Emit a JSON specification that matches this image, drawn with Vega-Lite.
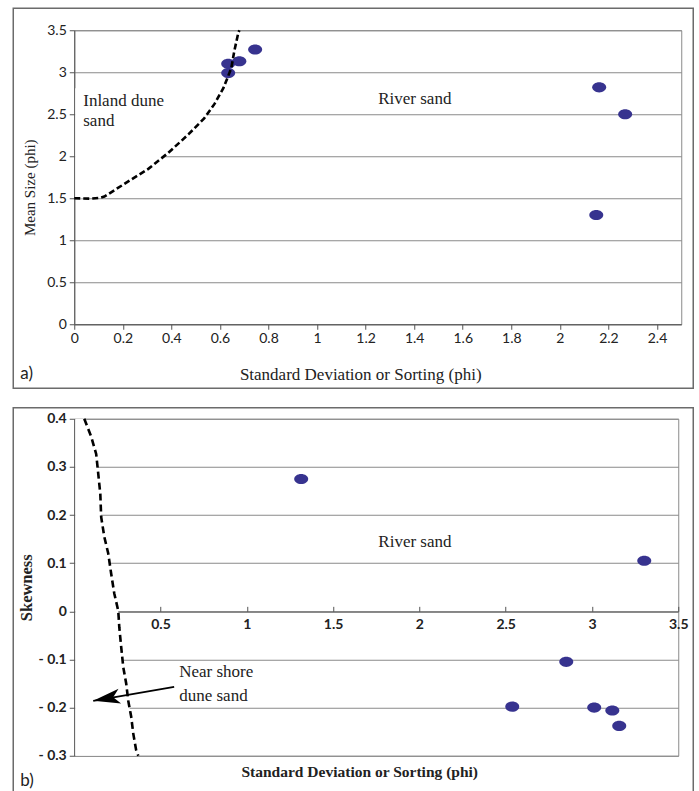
{
  "$schema": "https://vega.github.io/schema/vega-lite/v6.json",
  "background": "white",
  "padding": {"left": 11.25, "top": 6.25, "right": 0, "bottom": 0},
  "spacing": 15.5,
  "datasets": {
    "ptsA": [
      {"x": 0.634, "y": 3.10},
      {"x": 0.634, "y": 2.99},
      {"x": 0.68, "y": 3.13},
      {"x": 0.745, "y": 3.27},
      {"x": 2.162, "y": 2.82},
      {"x": 2.269, "y": 2.5},
      {"x": 2.15, "y": 1.30}
    ],
    "curveA": [
      {"x": 0.0, "y": 1.5},
      {"x": 0.062, "y": 1.495},
      {"x": 0.105, "y": 1.505},
      {"x": 0.124, "y": 1.52},
      {"x": 0.206, "y": 1.67},
      {"x": 0.305, "y": 1.85},
      {"x": 0.387, "y": 2.04},
      {"x": 0.47, "y": 2.26},
      {"x": 0.535, "y": 2.45},
      {"x": 0.577, "y": 2.62},
      {"x": 0.614, "y": 2.81},
      {"x": 0.647, "y": 3.05},
      {"x": 0.659, "y": 3.25},
      {"x": 0.675, "y": 3.46},
      {"x": 0.68, "y": 3.5}
    ],
    "txtA": [
      {"x": 0.037, "y": 2.655, "t": "Inland dune"},
      {"x": 0.037, "y": 2.417, "t": "sand"},
      {"x": 1.252, "y": 2.68, "t": "River sand"}
    ],
    "ptsB": [
      {"x": 1.315, "y": 0.275},
      {"x": 3.303, "y": 0.105},
      {"x": 2.851, "y": -0.105},
      {"x": 2.538, "y": -0.198},
      {"x": 3.013, "y": -0.2},
      {"x": 3.118, "y": -0.206},
      {"x": 3.158, "y": -0.238}
    ],
    "curveB": [
      {"x": 0.058, "y": 0.4},
      {"x": 0.098, "y": 0.363},
      {"x": 0.127, "y": 0.327},
      {"x": 0.139, "y": 0.286},
      {"x": 0.151, "y": 0.244},
      {"x": 0.156, "y": 0.196},
      {"x": 0.174, "y": 0.155},
      {"x": 0.197, "y": 0.12},
      {"x": 0.214, "y": 0.078},
      {"x": 0.232, "y": 0.037},
      {"x": 0.255, "y": 0.001},
      {"x": 0.261, "y": -0.033},
      {"x": 0.272, "y": -0.074},
      {"x": 0.284, "y": -0.116},
      {"x": 0.301, "y": -0.15},
      {"x": 0.313, "y": -0.186},
      {"x": 0.33, "y": -0.219},
      {"x": 0.342, "y": -0.254},
      {"x": 0.359, "y": -0.289},
      {"x": 0.371, "y": -0.3}
    ],
    "txtB": [
      {"x": 1.762, "y": 0.145, "t": "River sand"},
      {"x": 0.608, "y": -0.125, "t": "Near shore"},
      {"x": 0.608, "y": -0.175, "t": "dune sand"}
    ],
    "arrowB": [
      {"x": 0.579, "y": -0.157, "x2": 0.11, "y2": -0.186}
    ]
  },
  "config": {
    "view": {"stroke": "#8a8a8a", "strokeWidth": 1},
    "axis": {
      "labelFont": "Lato",
      "labelFontSize": 14,
      "labelColor": "#222",
      "titleFont": "Liberation Serif",
      "titleFontWeight": "normal",
      "titleColor": "#222",
      "domainColor": "#555",
      "tickColor": "#555",
      "gridColor": "#8a8a8a",
      "labelFlush": false,
      "labelOverlap": false
    }
  },
  "vconcat": [
    {
      "width": 607,
      "height": 294,
      "layer": [
        {
          "data": {"values": [{}]},
          "mark": {"type": "rect", "fill": "transparent", "stroke": "#6b6b6b", "strokeWidth": 1.5},
          "encoding": {
            "x": {"datum": -0.2512, "type": "quantitative", "scale": {"domain": [0, 2.5], "nice": false, "zero": false}},
            "x2": {"datum": 2.5494},
            "y": {"datum": -0.762, "type": "quantitative", "scale": {"domain": [0, 3.5], "nice": false, "zero": false}},
            "y2": {"datum": 3.762}
          }
        },
        {
          "data": {"name": "curveA"},
          "transform": [{"filter": "datum.y <= 2.85"}],
          "mark": {"type": "area", "orient": "horizontal", "color": "white", "opacity": 1},
          "encoding": {
            "x": {"field": "x", "type": "quantitative", "scale": {"domain": [0, 2.5], "nice": false, "zero": false}},
            "x2": {"datum": 0.004},
            "y": {"field": "y", "type": "quantitative", "scale": {"domain": [0, 3.5], "nice": false, "zero": false}}
          }
        },
        {
          "data": {"name": "ptsA"},
          "mark": {"type": "point", "filled": true, "opacity": 1, "color": "#37338f", "size": 196,
                   "shape": "M-1,0A1,0.72,0,1,1,1,0A1,0.72,0,1,1,-1,0Z"},
          "encoding": {
            "x": {
              "field": "x", "type": "quantitative",
              "scale": {"domain": [0, 2.5], "nice": false, "zero": false},
              "axis": {
                "values": [0, 0.2, 0.4, 0.6, 0.8, 1, 1.2, 1.4, 1.6, 1.8, 2, 2.2, 2.4],
                "format": "~g",
                "grid": false, "tickSize": 5, "labelPadding": 2,
                "title": "Standard Deviation or Sorting (phi)",
                "titleFontSize": 17, "titleX": 286, "titleY": 50, "titleBaseline": "middle"
              }
            },
            "y": {
              "field": "y", "type": "quantitative",
              "scale": {"domain": [0, 3.5], "nice": false, "zero": false},
              "axis": {
                "values": [0, 0.5, 1, 1.5, 2, 2.5, 3, 3.5],
                "format": "~g",
                "grid": true, "tickSize": 5, "labelPadding": 3,
                "title": "Mean Size (phi)", "titleFontSize": 15, "titlePadding": 9, "titleY": 157
              }
            }
          }
        },
        {
          "data": {"name": "curveA"},
          "mark": {"type": "line", "color": "black", "strokeWidth": 2.6, "strokeDash": [6, 3]},
          "encoding": {
            "x": {"field": "x", "type": "quantitative", "scale": {"domain": [0, 2.5], "nice": false, "zero": false}},
            "y": {"field": "y", "type": "quantitative", "scale": {"domain": [0, 3.5], "nice": false, "zero": false}}
          }
        },
        {
          "data": {"name": "txtA"},
          "mark": {"type": "text", "align": "left", "baseline": "middle", "font": "Liberation Serif", "fontSize": 17, "color": "#222"},
          "encoding": {
            "x": {"field": "x", "type": "quantitative", "scale": {"domain": [0, 2.5], "nice": false, "zero": false}},
            "y": {"field": "y", "type": "quantitative", "scale": {"domain": [0, 3.5], "nice": false, "zero": false}},
            "text": {"field": "t"}
          }
        },
        {
          "data": {"values": [{}]},
          "mark": {"type": "text", "align": "left", "baseline": "middle", "font": "Lato", "fontSize": 17, "color": "#222", "text": "a)"},
          "encoding": {
            "x": {"datum": -0.222, "type": "quantitative", "scale": {"domain": [0, 2.5], "nice": false, "zero": false}},
            "y": {"datum": -0.595, "type": "quantitative", "scale": {"domain": [0, 3.5], "nice": false, "zero": false}}
          }
        }
      ]
    },
    {
      "width": 604,
      "height": 337,
      "layer": [
        {
          "data": {"values": [{}]},
          "mark": {"type": "rect", "fill": "transparent", "stroke": "#6b6b6b", "strokeWidth": 1.5},
          "encoding": {
            "x": {"datum": -0.3535, "type": "quantitative", "scale": {"domain": [0, 3.5], "nice": false, "zero": false}},
            "x2": {"datum": 3.587},
            "y": {"datum": -0.404, "type": "quantitative", "scale": {"domain": [-0.3, 0.4], "nice": false, "zero": false}},
            "y2": {"datum": 0.4228}
          }
        },
        {
          "data": {"name": "curveB"},
          "mark": {"type": "area", "orient": "horizontal", "color": "white", "opacity": 1},
          "encoding": {
            "x": {"field": "x", "type": "quantitative", "scale": {"domain": [0, 3.5], "nice": false, "zero": false}},
            "x2": {"datum": 0.006},
            "y": {"field": "y", "type": "quantitative", "scale": {"domain": [-0.3, 0.4], "nice": false, "zero": false}}
          }
        },
        {
          "data": {"name": "ptsB"},
          "mark": {"type": "point", "filled": true, "opacity": 1, "color": "#37338f", "size": 196,
                   "shape": "M-1,0A1,0.72,0,1,1,1,0A1,0.72,0,1,1,-1,0Z"},
          "encoding": {
            "x": {
              "field": "x", "type": "quantitative",
              "scale": {"domain": [0, 3.5], "nice": false, "zero": false},
              "axis": {
                "orient": "bottom", "offset": -144.4,
                "values": [0.5, 1, 1.5, 2, 2.5, 3, 3.5],
                "format": "~g",
                "grid": false, "tickSize": -5, "labelPadding": 11, "labelFontWeight": "bold",
                "title": "Standard Deviation or Sorting (phi)",
                "titleFontWeight": "bold", "titleFontSize": 15.5,
                "titleX": 285, "titleY": 160, "titleBaseline": "middle"
              }
            },
            "y": {
              "field": "y", "type": "quantitative",
              "scale": {"domain": [-0.3, 0.4], "nice": false, "zero": false},
              "axis": {
                "values": [-0.3, -0.2, -0.1, 0, 0.1, 0.2, 0.3, 0.4],
                "labelExpr": "datum.value < -0.001 ? '- ' + format(-datum.value, '.1f') : (abs(datum.value) < 0.001 ? '0' : format(datum.value, '.1f'))",
                "grid": true, "tickSize": 5, "labelPadding": 3, "labelFontWeight": "bold",
                "title": "Skewness", "titleFontWeight": "bold", "titleFontSize": 16.5, "titlePadding": 4
              }
            }
          }
        },
        {
          "data": {"name": "curveB"},
          "mark": {"type": "line", "color": "black", "strokeWidth": 2.6, "strokeDash": [7, 4]},
          "encoding": {
            "x": {"field": "x", "type": "quantitative", "scale": {"domain": [0, 3.5], "nice": false, "zero": false}},
            "y": {"field": "y", "type": "quantitative", "scale": {"domain": [-0.3, 0.4], "nice": false, "zero": false}},
            "order": {"field": "y", "sort": "descending"}
          }
        },
        {
          "data": {"name": "arrowB"},
          "mark": {"type": "rule", "color": "black", "strokeWidth": 1.8},
          "encoding": {
            "x": {"field": "x", "type": "quantitative", "scale": {"domain": [0, 3.5], "nice": false, "zero": false}},
            "y": {"field": "y", "type": "quantitative", "scale": {"domain": [-0.3, 0.4], "nice": false, "zero": false}},
            "x2": {"field": "x2"},
            "y2": {"field": "y2"}
          }
        },
        {
          "data": {"name": "arrowB"},
          "mark": {"type": "point", "filled": true, "opacity": 1, "color": "black", "size": 729, "angle": 350,
                   "shape": "M0,0L2,-0.55L1.5,0L2,0.55Z"},
          "encoding": {
            "x": {"field": "x2", "type": "quantitative", "scale": {"domain": [0, 3.5], "nice": false, "zero": false}},
            "y": {"field": "y2", "type": "quantitative", "scale": {"domain": [-0.3, 0.4], "nice": false, "zero": false}}
          }
        },
        {
          "data": {"name": "txtB"},
          "mark": {"type": "text", "align": "left", "baseline": "middle", "font": "Liberation Serif", "fontSize": 17, "color": "#222"},
          "encoding": {
            "x": {"field": "x", "type": "quantitative", "scale": {"domain": [0, 3.5], "nice": false, "zero": false}},
            "y": {"field": "y", "type": "quantitative", "scale": {"domain": [-0.3, 0.4], "nice": false, "zero": false}},
            "text": {"field": "t"}
          }
        },
        {
          "data": {"values": [{}]},
          "mark": {"type": "text", "align": "left", "baseline": "middle", "font": "Lato", "fontSize": 17, "color": "#222", "text": "b)"},
          "encoding": {
            "x": {"datum": -0.313, "type": "quantitative", "scale": {"domain": [0, 3.5], "nice": false, "zero": false}},
            "y": {"datum": -0.352, "type": "quantitative", "scale": {"domain": [-0.3, 0.4], "nice": false, "zero": false}}
          }
        }
      ]
    }
  ]
}
